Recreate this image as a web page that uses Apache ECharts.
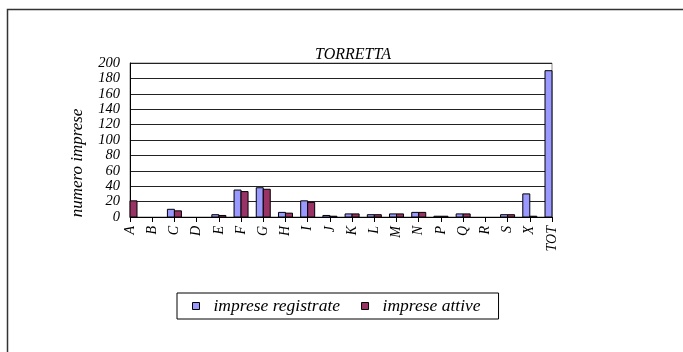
<!DOCTYPE html>
<html><head><meta charset="utf-8">
<script src="https://cdn.jsdelivr.net/npm/echarts@6/dist/echarts.min.js"></script>
<style>html,body{margin:0;padding:0;background:#fff}#c{width:683px;height:352px}</style>
</head><body><div id="c"></div>
<script>
var categories = ['A','B','C','D','E','F','G','H','I','J','K','L','M','N','P','Q','R','S','X','TOT'];
var registrate = [22,0,10,0,3,35,38,6,21,2,4,3,4,6,1,4,0,3,30,190];
var attive     = [21,0,8,0,2,33,36,5,19,1,4,3,4,6,1,4,0,3,1,151];
var yTicks = [0,20,40,60,80,100,120,140,160,180,200];
var FONT = "'Liberation Serif','Times New Roman',serif";
var BAR_W = 7;

function makeRender(side){
  return function(params, api){
    var idx = api.value(0), v = api.value(1);
    if (!v) return null;
    var top = api.coord([idx, v]);
    var base = api.coord([idx, 0]);
    var rect = {x: top[0] + (side < 0 ? -BAR_W : 0), y: top[1], width: BAR_W, height: base[1] - top[1]};
    var cs = params.coordSys;
    var clipped = echarts.graphic.clipRectByRect(rect, {x: cs.x, y: cs.y, width: cs.width, height: cs.height});
    if (!clipped || clipped.width < 1 || clipped.height <= 0) return null;
    return {type:'rect', shape: clipped, style: api.style()};
  };
}
function toPairs(arr){ return arr.map(function(v,i){ return [i, v]; }); }

var chart = echarts.init(document.getElementById('c'));
chart.setOption({
  animation:false,
  backgroundColor:'#fff',
  title:{text:'TORRETTA',left:348,top:42,textAlign:'center',
    textStyle:{fontFamily:FONT,fontStyle:'italic',fontWeight:'normal',fontSize:16,color:'#000'}},
  grid:{left:130,right:131,top:63,bottom:135,show:true,borderColor:'#888',borderWidth:1},
  legend:{left:177,top:293,padding:[4,18,4,15],itemWidth:7,itemHeight:7,itemGap:21,icon:'rect',
    borderColor:'#000',borderWidth:1,
    itemStyle:{borderColor:'#000',borderWidth:1},
    textStyle:{fontFamily:FONT,fontStyle:'italic',fontSize:17.5,color:'#000',padding:[0,0,0,9]},
    data:['imprese registrate','imprese attive']},
  xAxis:{type:'category',data:categories,boundaryGap:false,
    axisLine:{lineStyle:{color:'#000',width:1}},
    axisTick:{show:true,length:5,lineStyle:{color:'#000'}},
    axisLabel:{rotate:90,margin:9,interval:0,fontFamily:FONT,fontStyle:'italic',fontSize:14,color:'#000'},
    splitLine:{show:false}},
  yAxis:{type:'value',min:yTicks[0],max:yTicks[yTicks.length-1],interval:yTicks[1]-yTicks[0],
    axisLine:{show:true,lineStyle:{color:'#000',width:1}},
    axisTick:{show:false},
    axisLabel:{margin:10,fontFamily:FONT,fontStyle:'italic',fontSize:14.5,color:'#000'},
    splitLine:{show:true,lineStyle:{color:'#222',width:1}}},
  graphic:[
    {type:'rect',shape:{x:7.5,y:9.5,width:800,height:500},style:{fill:'none',stroke:'#333',lineWidth:1.5},silent:true},
    {type:'text',x:78,y:163,rotation:Math.PI/2,style:{text:'numero imprese',fontFamily:FONT,fontStyle:'italic',fontSize:17,fill:'#000',align:'center',verticalAlign:'middle'}}
  ],
  series:[
    {name:'imprese registrate',type:'custom',data:toPairs(registrate),encode:{x:0,y:1},
      renderItem:makeRender(-1),
      itemStyle:{color:'#9999ff',borderColor:'#000',borderWidth:1}},
    {name:'imprese attive',type:'custom',data:toPairs(attive),encode:{x:0,y:1},
      renderItem:makeRender(1),
      itemStyle:{color:'#993366',borderColor:'#000',borderWidth:1}}
  ]
});
</script></body></html>
